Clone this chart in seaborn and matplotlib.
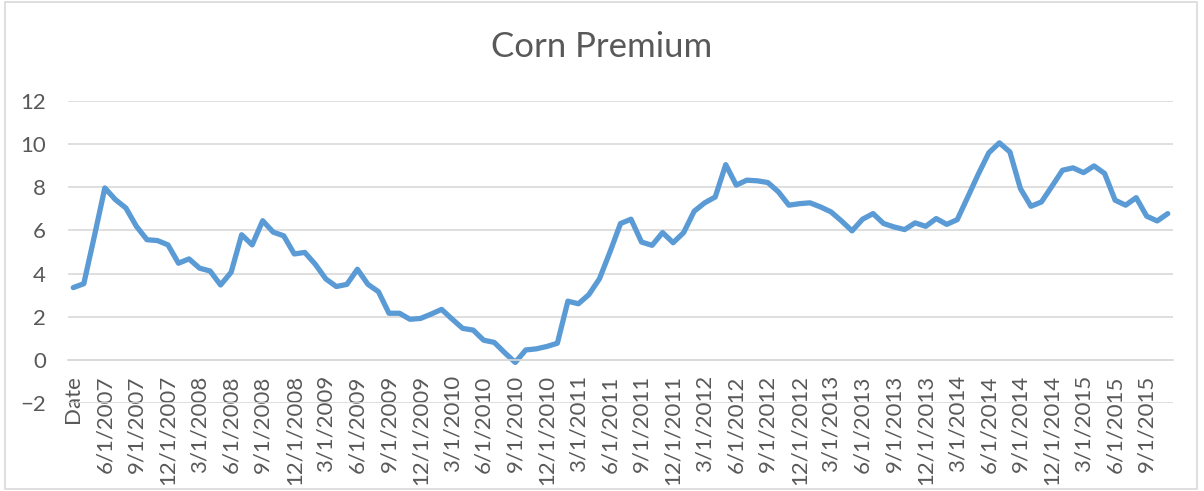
import numpy as np
import pandas as pd
import matplotlib
matplotlib.use("Agg")
import matplotlib.pyplot as plt
import seaborn as sns
from matplotlib.patches import Rectangle

# category labels: the sheet's header cell "Date" ended up as the first category
months = pd.date_range("2007-04-01", "2015-11-01", freq="MS")
categories = ["Date"] + [f"{d.month}/{d.day}/{d.year}" for d in months]

premium = [
    3.35, 3.53, 5.72, 7.97, 7.43, 7.04, 6.19, 5.57, 5.53, 5.33,
    4.48, 4.68, 4.25, 4.12, 3.47, 4.06, 5.80, 5.33, 6.45, 5.92,
    5.75, 4.91, 4.98, 4.43, 3.75, 3.40, 3.50, 4.20, 3.50, 3.16,
    2.16, 2.16, 1.88, 1.92, 2.12, 2.34, 1.89, 1.46, 1.38, 0.91,
    0.81, 0.33, -0.12, 0.46, 0.51, 0.62, 0.77, 2.72, 2.60, 3.03,
    3.76, 5.00, 6.32, 6.52, 5.46, 5.31, 5.90, 5.43, 5.90, 6.89,
    7.28, 7.55, 9.05, 8.10, 8.33, 8.30, 8.22, 7.79, 7.17, 7.24,
    7.28, 7.09, 6.86, 6.44, 5.98, 6.52, 6.78, 6.32, 6.16, 6.04,
    6.35, 6.19, 6.55, 6.28, 6.50, 7.55, 8.61, 9.60, 10.06, 9.64,
    7.94, 7.12, 7.32, 8.05, 8.79, 8.90, 8.68, 8.99, 8.64, 7.40,
    7.17, 7.52, 6.66, 6.44, 6.78,
]

y_ticks = [-2, 0, 2, 4, 6, 8, 10, 12]

df = pd.DataFrame({"date": categories, "premium": premium})

sns.set_theme(style="white")
plt.rcParams["font.family"] = ["Lato", "DejaVu Sans"]

text_color = "#595959"
grid_color = "#D9D9D9"

fig = plt.figure(figsize=(12.04, 4.91), dpi=100)
ax = fig.add_axes([68 / 1204, 1 - 403 / 491, (1173 - 68) / 1204, (403 - 101) / 491])

sns.lineplot(data=df, x="date", y="premium", sort=False, ax=ax,
             color="#5B9BD5", linewidth=3.8, solid_joinstyle="round",
             solid_capstyle="round")

# horizontal axis crosses at zero, like the Excel chart
ax.spines["bottom"].set_position(("data", 0))
ax.spines["bottom"].set_color(grid_color)
ax.spines["bottom"].set_linewidth(1.2)
for side in ["top", "right", "left"]:
    ax.spines[side].set_visible(False)

ax.set_ylim(-2, 12)
ax.set_yticks(y_ticks)
ax.set_xlim(-0.5, len(categories) - 0.5)
ax.set_xticks(range(0, len(categories), 3))
ax.set_xticklabels(categories[::3])

ax.yaxis.grid(True, color=grid_color, linewidth=1.2)
ax.set_axisbelow(True)

ax.tick_params(axis="x", length=0, pad=11, labelsize=16, labelcolor=text_color,
               labelrotation=90)
ax.tick_params(axis="y", length=0, pad=16, labelsize=16, labelcolor=text_color)
for lab in ax.get_xticklabels():
    lab.set_verticalalignment("top")
    lab.set_horizontalalignment("center")
ax.set_xlabel("")
ax.set_ylabel("")

fig.text(0.5, 1 - 47 / 491, "Corn Premium", ha="center", va="center",
         fontsize=25, color=text_color)

# chart border
fig.patches.append(Rectangle((5 / 1204, 2 / 491), (1197 - 5) / 1204, (489 - 2) / 491,
                             transform=fig.transFigure, fill=False,
                             edgecolor=grid_color, linewidth=1.2))

fig.savefig("out.png", dpi=100, facecolor="white")
